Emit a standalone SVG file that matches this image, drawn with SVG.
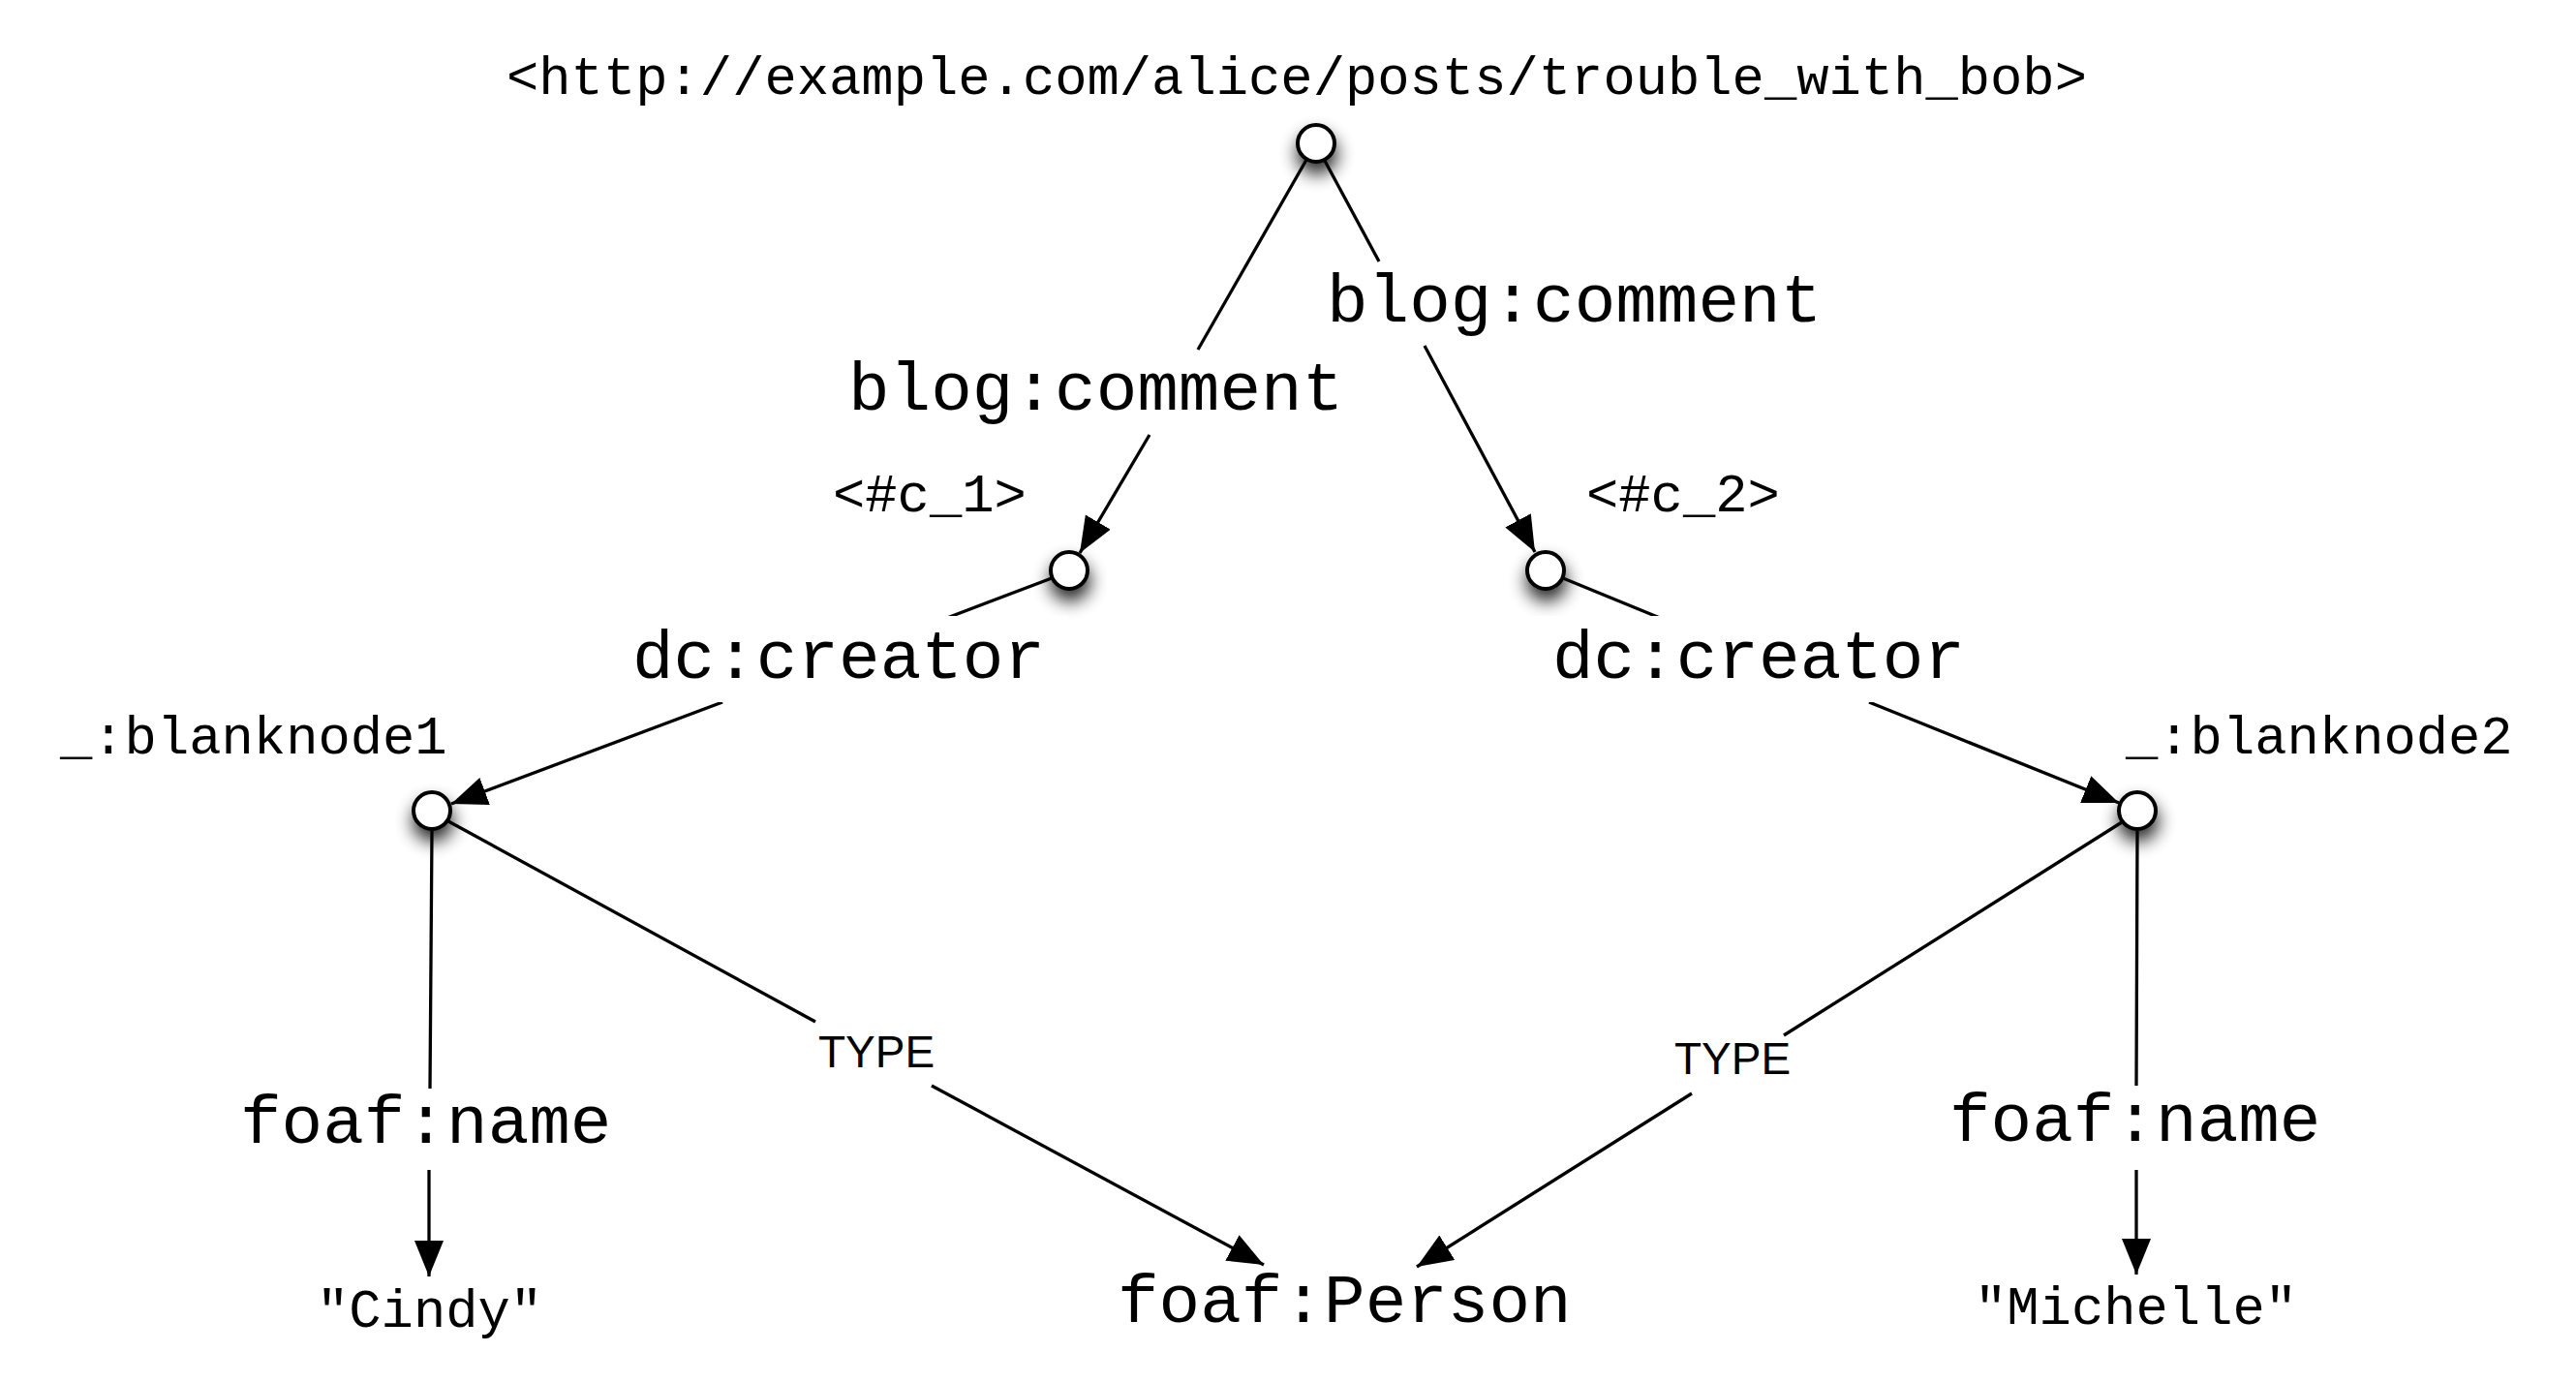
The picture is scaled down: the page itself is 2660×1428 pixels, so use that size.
<svg xmlns="http://www.w3.org/2000/svg" width="2660" height="1428" viewBox="0 0 2660 1428">
<style>
.mono{font-family:"Liberation Mono","Courier New",monospace;fill:#000}
.big{font-size:71px}
.small{font-size:55.5px}
.type{font-family:"Liberation Sans",Arial,sans-serif;font-size:46px;fill:#000}
.edge{fill:none;stroke:#000;stroke-width:3.3}
.node{fill:#fff;stroke:#000;stroke-width:4;filter:url(#shadow)}
.bg{fill:#fff}
</style>
<defs>
<filter id="shadow" x="-300%" y="-300%" width="700%" height="700%">
<feGaussianBlur in="SourceAlpha" stdDeviation="9"/>
<feOffset dx="1" dy="11" result="b"/>
<feComponentTransfer><feFuncA type="linear" slope="0.85"/></feComponentTransfer>
<feMerge><feMergeNode/><feMergeNode in="SourceGraphic"/></feMerge>
</filter>
<marker id="arrow" markerUnits="userSpaceOnUse" markerWidth="40" markerHeight="32" refX="37" refY="15" orient="auto">
<path d="M0,0 L37,15 L0,30 Z" fill="#000"/>
</marker>
</defs>
<rect width="2660" height="1428" fill="#fff"/>
<g id="connectors">
<path class="edge" marker-end="url(#arrow)" d="M1349,165 L1237,361 M1187,449 L1115,571"/>
<path class="edge" marker-end="url(#arrow)" d="M1368,166 L1424,270 M1471,357 L1585,570"/>
<path class="edge" marker-end="url(#arrow)" d="M1086,597 L978,638 M746,725 L466,830"/>
<path class="edge" marker-end="url(#arrow)" d="M1614,597 L1714,638 M1930,725 L2188,829"/>
<path class="edge" marker-end="url(#arrow)" d="M446,858 L444,1124 M443,1208 L443,1318"/>
<path class="edge" marker-end="url(#arrow)" d="M463,848 L842,1055 M962,1121 L1305,1306"/>
<path class="edge" marker-end="url(#arrow)" d="M2191,849 L1842,1069 M1747,1129 L1463,1308"/>
<path class="edge" marker-end="url(#arrow)" d="M2207,858 L2206,1121 M2206,1208 L2206,1316"/>
</g>
<g id="node-post">
<circle class="node" cx="1359" cy="148" r="19"/>
<text class="mono small" x="523" y="97">&lt;http://example.com/alice/posts/trouble_with_bob&gt;</text>
</g>
<g id="node-c1">
<circle class="node" cx="1104" cy="589" r="19"/>
<text class="mono small" x="860" y="528">&lt;#c_1&gt;</text>
</g>
<g id="node-c2">
<circle class="node" cx="1596" cy="589" r="19"/>
<text class="mono small" x="1638" y="528">&lt;#c_2&gt;</text>
</g>
<g id="node-blank1">
<circle class="node" cx="446" cy="837" r="19"/>
<text class="mono small" x="62" y="778">_:blanknode1</text>
</g>
<g id="node-blank2">
<circle class="node" cx="2207" cy="837" r="19"/>
<text class="mono small" x="2195" y="778">_:blanknode2</text>
</g>
<g id="node-cindy">
<text class="mono small" x="327" y="1370">"Cindy"</text>
</g>
<g id="node-michelle">
<text class="mono small" x="2039" y="1367">"Michelle"</text>
</g>
<g id="node-person">
<text class="mono big" x="1154" y="1365">foaf:Person</text>
</g>
<g id="labels">
<text class="mono big" x="1370" y="332">blog:comment</text>
<text class="mono big" x="876" y="423">blog:comment</text>
<rect class="bg" x="640" y="636" width="463" height="89"/>
<text class="mono big" x="653" y="700">dc:creator</text>
<rect class="bg" x="1583" y="636" width="462" height="89"/>
<text class="mono big" x="1603" y="700">dc:creator</text>
<text class="mono big" x="248" y="1180">foaf:name</text>
<text class="mono big" x="2013" y="1178">foaf:name</text>
<text class="type" x="845" y="1102">TYPE</text>
<text class="type" x="1729" y="1109">TYPE</text>
</g>
</svg>
